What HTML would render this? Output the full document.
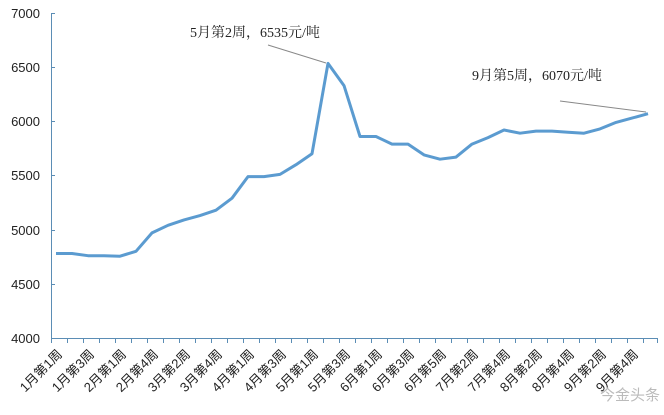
<!DOCTYPE html>
<html><head><meta charset="utf-8"><style>
html,body{margin:0;padding:0;background:#fff;}
svg{display:block;}
</style></head><body>
<svg width="664" height="415" xmlns="http://www.w3.org/2000/svg" font-family="Liberation Sans, Noto Sans CJK SC, sans-serif">
<g font-size="13" fill="#222" text-anchor="end">
<text x="40" y="18">7000</text>
<text x="40" y="72">6500</text>
<text x="40" y="126">6000</text>
<text x="40" y="180">5500</text>
<text x="40" y="235">5000</text>
<text x="40" y="289">4500</text>
<text x="40" y="343">4000</text>
</g>
<g stroke="#5b8db5" stroke-width="1" fill="none">
<line x1="51.5" y1="13" x2="51.5" y2="338"/>
<line x1="51" y1="338.5" x2="658" y2="338.5"/>
<path d="M51 13.5h4M51 67.5h4M51 121.5h4M51 175.5h4M51 230.5h4M51 284.5h4"/>
</g>
<polyline fill="none" stroke="#5b9bd0" stroke-width="3" stroke-linejoin="round" points="56,253.5 72,253.5 88,255.7 104,255.7 120,256.2 136,251.3 152,232.9 168,225.3 184,219.9 200,215.6 216,210.2 232,198.2 248,176.6 264,176.6 280,174.4 296,164.7 312,153.8 328,63.4 344,85.6 360,136.5 376,136.5 392,144.1 408,144.1 424,154.9 440,159.2 456,157.1 472,144.1 488,137.6 504,130 520,133.2 536,131.1 552,131.1 568,132.2 584,133.2 600,128.9 616,122.4 632,118.1 648,113.7"/>
<g font-family="Liberation Serif, Noto Serif CJK SC, serif" font-size="14" fill="#222">
<text x="190" y="37">5月第2周，6535元/吨</text>
<text x="472" y="80">9月第5周，6070元/吨</text>
</g>
<line x1="268" y1="45" x2="326" y2="63" stroke="#888" stroke-width="1"/>
<line x1="560" y1="101" x2="646" y2="112" stroke="#888" stroke-width="1"/>
<g font-size="13" fill="#222" text-anchor="end">
<text transform="translate(63,355) rotate(-45)">1月第1周</text>
<text transform="translate(95,355) rotate(-45)">1月第3周</text>
<text transform="translate(127,355) rotate(-45)">2月第1周</text>
<text transform="translate(159,355) rotate(-45)">2月第4周</text>
<text transform="translate(191,355) rotate(-45)">3月第2周</text>
<text transform="translate(223,355) rotate(-45)">3月第4周</text>
<text transform="translate(255,355) rotate(-45)">4月第1周</text>
<text transform="translate(287,355) rotate(-45)">4月第3周</text>
<text transform="translate(319,355) rotate(-45)">5月第1周</text>
<text transform="translate(351,355) rotate(-45)">5月第3周</text>
<text transform="translate(383,355) rotate(-45)">6月第1周</text>
<text transform="translate(415,355) rotate(-45)">6月第3周</text>
<text transform="translate(447,355) rotate(-45)">6月第5周</text>
<text transform="translate(479,355) rotate(-45)">7月第2周</text>
<text transform="translate(511,355) rotate(-45)">7月第4周</text>
<text transform="translate(543,355) rotate(-45)">8月第2周</text>
<text transform="translate(575,355) rotate(-45)">8月第4周</text>
<text transform="translate(607,355) rotate(-45)">9月第2周</text>
<text transform="translate(639,355) rotate(-45)">9月第4周</text>
</g>
<text x="660" y="400" font-size="15" fill="#bbb" text-anchor="end">今金头条</text>
<g stroke="#5b8db5" stroke-width="1">
<path d="M51.5 338v5M67.5 338v5M83.5 338v5M99.5 338v5M115.5 338v5M131.5 338v5M147.5 338v5M163.5 338v5M179.5 338v5M195.5 338v5M211.5 338v5M227.5 338v5M243.5 338v5M259.5 338v5M275.5 338v5M291.5 338v5M307.5 338v5M323.5 338v5M339.5 338v5M355.5 338v5M371.5 338v5M387.5 338v5M403.5 338v5M419.5 338v5M435.5 338v5M451.5 338v5M467.5 338v5M483.5 338v5M499.5 338v5M515.5 338v5M531.5 338v5M547.5 338v5M563.5 338v5M579.5 338v5M595.5 338v5M611.5 338v5M627.5 338v5M643.5 338v5M657.5 338v5"/>
</g>
</svg>
</body></html>
